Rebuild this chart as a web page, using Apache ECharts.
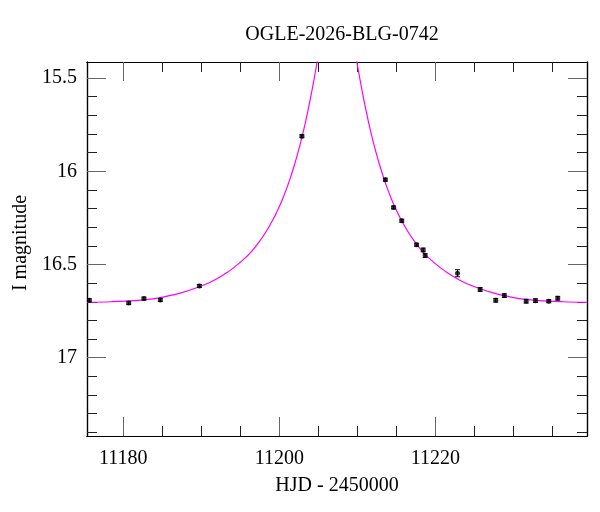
<!DOCTYPE html>
<html>
<head>
<meta charset="utf-8">
<script src="https://cdn.jsdelivr.net/npm/echarts@6/dist/echarts.min.js"></script>
<style>
  html, body { margin: 0; padding: 0; background: #fff; }
  #main { width: 600px; height: 512px; }
</style>
</head>
<body>
<div id="main"></div>
<script>
// observed photometry
var obsTime = [11175.65, 11180.7, 11182.65, 11184.75, 11189.75, 11202.9, 11213.6, 11214.65, 11215.7,
               11217.6, 11218.45, 11218.7, 11222.85, 11225.75, 11227.75, 11228.85, 11231.65, 11232.85,
               11234.55, 11235.7];
var obsMag  = [16.692, 16.706, 16.683, 16.690, 16.615, 15.812, 16.045, 16.194, 16.265,
               16.394, 16.422, 16.452, 16.547, 16.634, 16.692, 16.667, 16.697, 16.694,
               16.697, 16.681];
var obsErr  = [0.008, 0.008, 0.008, 0.008, 0.008, 0.008, 0.008, 0.008, 0.008,
               0.008, 0.010, 0.010, 0.019, 0.010, 0.010, 0.010, 0.010, 0.010,
               0.008, 0.010];

// model curve
var modelTime = [11175.35, 11178.4, 11181.4, 11184.4, 11187.4, 11189.4, 11191.4, 11193.4, 11194.4,
                 11195.4, 11196.4, 11197.4, 11198.4, 11199.4, 11199.9, 11200.4, 11200.9, 11201.4,
                 11201.9, 11202.4, 11202.9, 11203.4, 11203.9, 11204.4, 11204.9, 11205.4, 11205.9,
                 11206.4, 11207.4, 11208.4, 11208.9, 11209.4, 11209.9, 11210.4, 11210.9, 11211.4,
                 11211.9, 11212.4, 11212.9, 11213.4, 11213.9, 11214.4, 11214.9, 11215.4, 11216.4,
                 11217.4, 11218.4, 11219.4, 11220.4, 11221.4, 11223.4, 11225.4, 11227.4, 11230.4,
                 11233.4, 11236.4, 11239.45];
var modelMag  = [16.703, 16.700, 16.694, 16.680, 16.652, 16.625, 16.590, 16.540, 16.509,
                 16.474, 16.432, 16.380, 16.318, 16.243, 16.199, 16.151, 16.097, 16.038,
                 15.972, 15.899, 15.818, 15.728, 15.629, 15.520, 15.402, 15.276, 15.150,
                 15.036, 14.920, 15.036, 15.150, 15.276, 15.402, 15.520, 15.629, 15.728,
                 15.818, 15.899, 15.972, 16.038, 16.097, 16.151, 16.199, 16.243, 16.318,
                 16.380, 16.432, 16.474, 16.509, 16.540, 16.590, 16.625, 16.652, 16.680,
                 16.694, 16.700, 16.703];

// ticks
var xMajor = [11180, 11200, 11220];
var xMinor = [11185, 11190, 11195, 11205, 11210, 11215, 11225, 11230, 11235];
var yMajor = [15.5, 16, 16.5, 17];
var yMinor = [15.6, 15.7, 15.8, 15.9, 16.1, 16.2, 16.3, 16.4, 16.6, 16.7, 16.8, 16.9, 17.1, 17.2, 17.3, 17.4];

var xMin = 11175.35, xMax = 11239.45;
var yMin = 15.414, yMax = 17.42;

var fontFamily = 'Liberation Serif';
var myChart = echarts.init(document.getElementById('main'));

function plain(v) { return String(v); }

function makeX(pos, ticks, len, color, labels, name) {
	return {
		type: 'value', position: pos, min: xMin, max: xMax,
		name: name || '', nameLocation: 'middle', nameGap: 40,
		nameTextStyle: { fontFamily: fontFamily, fontSize: 20, color: '#000' },
		splitLine: { show: false },
		axisLine: { show: true, onZero: false, lineStyle: { color: '#000', width: 1.2 } },
		axisTick: { show: true, inside: true, length: len, customValues: ticks, lineStyle: { color: color, width: 1 } },
		axisLabel: labels ? { show: true, margin: 13, customValues: labels, formatter: plain,
			fontFamily: fontFamily, fontSize: 20, color: '#000' } : { show: false }
	};
}

function makeY(pos, ticks, len, color, labels, name) {
	return {
		type: 'value', position: pos, min: yMin, max: yMax, inverse: true,
		name: name || '', nameLocation: 'middle', nameGap: 55,
		nameTextStyle: { fontFamily: fontFamily, fontSize: 20, color: '#000', padding: [0, 0, 0, 12] },
		splitLine: { show: false },
		axisLine: { show: true, onZero: false, lineStyle: { color: '#000', width: 1.2 } },
		axisTick: { show: true, inside: true, length: len, customValues: ticks, lineStyle: { color: color, width: 1 } },
		axisLabel: labels ? { show: true, margin: 10, customValues: labels, formatter: plain,
			fontFamily: fontFamily, fontSize: 20, color: '#000' } : { show: false }
	};
}

var option = {
	backgroundColor: '#fff',
	animation: false,
	title: {
		text: 'OGLE-2026-BLG-0742',
		left: 337, top: 20, textAlign: 'center',
		textStyle: { fontFamily: fontFamily, fontSize: 20, fontWeight: 'normal', color: '#000' }
	},
	grid: { left: 87, right: 13, top: 62, bottom: 76 },
	xAxis: [
		makeX('bottom', xMajor, 19, '#666', xMajor, 'HJD - 2450000'),
		makeX('bottom', xMinor, 10, '#222'),
		makeX('top', xMajor, 19, '#666'),
		makeX('top', xMinor, 10, '#222')
	],
	yAxis: [
		makeY('left', yMajor, 19, '#666', yMajor, 'I magnitude'),
		makeY('left', yMinor, 10, '#222'),
		makeY('right', yMajor, 19, '#666'),
		makeY('right', yMinor, 10, '#222')
	],
	series: [
		{
			name: 'model',
			type: 'line',
			data: modelTime.map(function (t, i) { return [t, modelMag[i]]; }),
			showSymbol: false,
			smooth: 0.3,
			clip: true,
			lineStyle: { color: '#ff00ff', width: 1.2 },
			z: 2
		},
		{
			name: 'errors',
			type: 'custom',
			data: obsTime.map(function (t, i) { return [t, obsMag[i], obsErr[i]]; }),
			clip: true,
			renderItem: function (params, api) {
				var t = api.value(0), m = api.value(1), e = api.value(2);
				var hi = api.coord([t, m - e]);
				var lo = api.coord([t, m + e]);
				var style = { stroke: '#000', lineWidth: 1 };
				return {
					type: 'group',
					children: [
						{ type: 'line', shape: { x1: hi[0], y1: hi[1], x2: lo[0], y2: lo[1] }, style: style },
						{ type: 'line', shape: { x1: hi[0] - 2.5, y1: hi[1], x2: hi[0] + 2.5, y2: hi[1] }, style: style },
						{ type: 'line', shape: { x1: lo[0] - 2.5, y1: lo[1], x2: lo[0] + 2.5, y2: lo[1] }, style: style }
					]
				};
			},
			z: 3
		},
		{
			name: 'data',
			type: 'scatter',
			data: obsTime.map(function (t, i) { return [t, obsMag[i]]; }),
			symbol: 'circle',
			symbolSize: 5,
			itemStyle: { color: '#000' },
			z: 4
		}
	]
};

myChart.setOption(option);
</script>
</body>
</html>
